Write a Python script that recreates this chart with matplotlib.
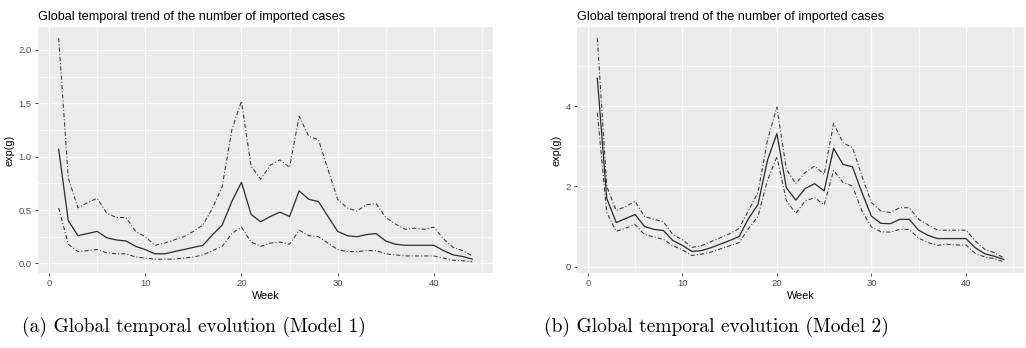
import numpy as np
import matplotlib
matplotlib.use("Agg")
import matplotlib.pyplot as plt
from matplotlib.ticker import MultipleLocator

plt.rcParams['font.family'] = ['Liberation Sans', 'DejaVu Sans']

weeks = list(range(1, 45))

# Model 1
m1_mean = [1.07, 0.40, 0.26, 0.28, 0.30, 0.24, 0.22, 0.21, 0.16, 0.13,
           0.09, 0.09, 0.11, 0.13, 0.15, 0.17, 0.27, 0.36, 0.58, 0.76,
           0.46, 0.39, 0.44, 0.48, 0.44, 0.68, 0.60, 0.58, 0.44, 0.30,
           0.26, 0.25, 0.27, 0.28, 0.21, 0.18, 0.17, 0.17, 0.17, 0.17,
           0.12, 0.08, 0.065, 0.04]
m1_upper = [2.11, 0.80, 0.52, 0.57, 0.61, 0.47, 0.43, 0.43, 0.30, 0.25,
            0.17, 0.19, 0.22, 0.25, 0.30, 0.36, 0.52, 0.72, 1.25, 1.52,
            0.91, 0.79, 0.92, 0.97, 0.90, 1.38, 1.19, 1.16, 0.88, 0.60,
            0.52, 0.49, 0.55, 0.56, 0.43, 0.37, 0.32, 0.33, 0.32, 0.34,
            0.23, 0.15, 0.12, 0.07]
m1_lower = [0.52, 0.18, 0.11, 0.12, 0.13, 0.10, 0.09, 0.09, 0.06, 0.05,
            0.04, 0.04, 0.04, 0.05, 0.06, 0.08, 0.12, 0.16, 0.28, 0.34,
            0.20, 0.16, 0.19, 0.20, 0.18, 0.31, 0.26, 0.25, 0.19, 0.13,
            0.11, 0.11, 0.12, 0.12, 0.09, 0.08, 0.07, 0.07, 0.07, 0.07,
            0.05, 0.03, 0.025, 0.015]

# Model 2
m2_mean = [4.70, 1.70, 1.10, 1.20, 1.30, 1.00, 0.93, 0.90, 0.65, 0.53,
           0.38, 0.40, 0.47, 0.56, 0.65, 0.75, 1.20, 1.55, 2.65, 3.32,
           1.97, 1.66, 1.95, 2.07, 1.89, 2.95, 2.55, 2.49, 1.85, 1.26,
           1.08, 1.07, 1.18, 1.18, 0.91, 0.78, 0.70, 0.70, 0.70, 0.70,
           0.47, 0.32, 0.26, 0.18]
m2_upper = [5.70, 2.00, 1.40, 1.50, 1.63, 1.25, 1.18, 1.12, 0.80, 0.67,
            0.48, 0.52, 0.62, 0.72, 0.82, 0.95, 1.40, 1.85, 3.15, 3.98,
            2.43, 2.07, 2.35, 2.51, 2.30, 3.58, 3.09, 2.97, 2.26, 1.60,
            1.39, 1.35, 1.47, 1.47, 1.18, 1.04, 0.91, 0.91, 0.91, 0.91,
            0.64, 0.43, 0.35, 0.22]
m2_lower = [3.84, 1.35, 0.88, 0.96, 1.05, 0.80, 0.74, 0.68, 0.52, 0.42,
            0.28, 0.31, 0.36, 0.44, 0.52, 0.60, 0.95, 1.25, 2.15, 2.74,
            1.65, 1.33, 1.64, 1.72, 1.54, 2.40, 2.10, 2.01, 1.39, 0.99,
            0.87, 0.86, 0.93, 0.93, 0.71, 0.60, 0.53, 0.56, 0.54, 0.54,
            0.33, 0.24, 0.20, 0.12]

title = "Global temporal trend of the number of imported cases"
captions = ["(a) Global temporal evolution (Model 1)",
            "(b) Global temporal evolution (Model 2)"]


def panel(ax, mean, upper, lower, ymaj, ymin):
    ax.set_facecolor("#EBEBEB")
    for s in ax.spines.values():
        s.set_visible(False)
    ax.xaxis.set_major_locator(MultipleLocator(10))
    ax.xaxis.set_minor_locator(MultipleLocator(5))
    ax.yaxis.set_major_locator(MultipleLocator(ymaj))
    ax.yaxis.set_minor_locator(MultipleLocator(ymin))
    ax.grid(which="major", color="white", lw=1.0)
    ax.grid(which="minor", color="white", lw=0.5)
    ax.set_axisbelow(True)
    ax.tick_params(which="major", length=2.5, width=0.6, color="#333333",
                   labelsize=6.8, labelcolor="#4D4D4D", pad=2)
    ax.tick_params(which="minor", length=0)

    ax.plot(weeks, upper, color="#333333", lw=0.75, dashes=[4, 2, 1, 2])
    ax.plot(weeks, lower, color="#333333", lw=0.75, dashes=[4, 2, 1, 2])
    ax.plot(weeks, mean, color="#2a2a2a", lw=0.9)

    # ggplot style 5% expansion
    lo = min(lower)
    hi = max(upper)
    pad = (hi - lo) * 0.05
    ax.set_ylim(lo - pad, hi + pad)
    ax.set_xlim(1 - 43 * 0.05, 44 + 43 * 0.05)
    ax.set_xlabel("Week", fontsize=7.8, labelpad=2)
    ax.set_ylabel("exp(g)", fontsize=7.8, labelpad=3)
    ax.set_title(title, fontsize=9.1, loc="left", pad=5)


fig = plt.figure(figsize=(10.26, 3.48), dpi=100)
ax1 = fig.add_axes([38 / 1026, 75 / 348, 455 / 1026, 246 / 348])
ax2 = fig.add_axes([577 / 1026, 75 / 348, 447 / 1026, 246 / 348])

panel(ax1, m1_mean, m1_upper, m1_lower, 0.5, 0.25)
panel(ax2, m2_mean, m2_upper, m2_lower, 2, 1)

fig.text(22 / 1026, 1 - 327 / 348, captions[0], fontsize=14, family="cmr10",
         va="center", ha="left")
fig.text(544 / 1026, 1 - 327 / 348, captions[1], fontsize=14, family="cmr10",
         va="center", ha="left")

fig.savefig("out.png", dpi=100)
